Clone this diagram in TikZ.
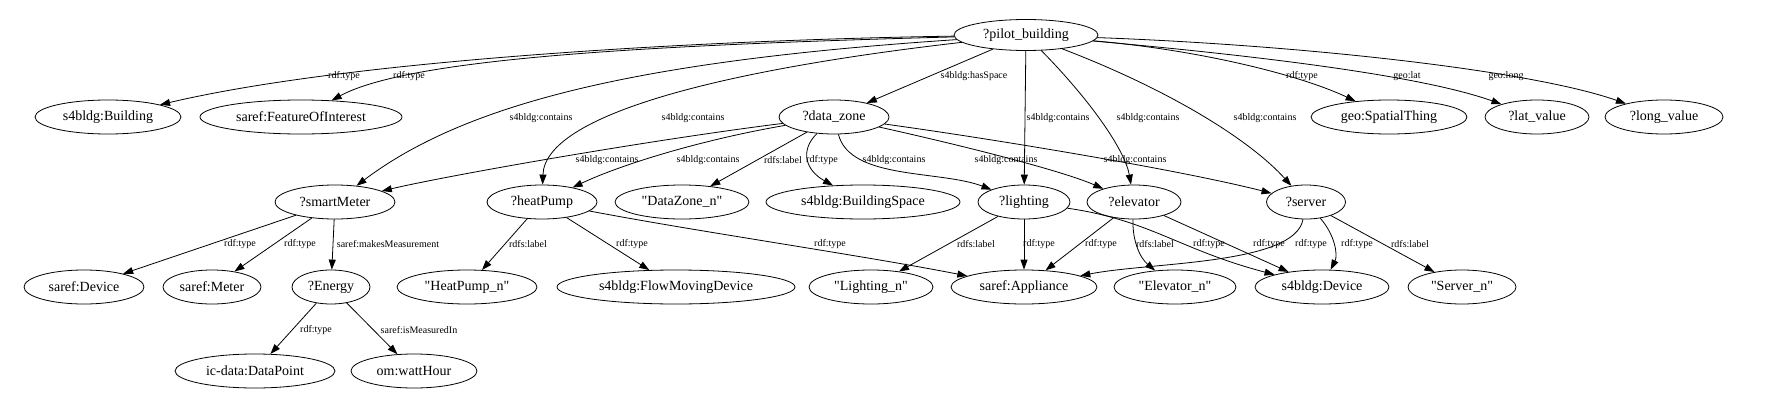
\documentclass[tikz,border=0pt]{standalone}
\usepackage{fontspec}
\newfontfamily\gvfont{Liberation Serif}
\usetikzlibrary{shapes.geometric,arrows.meta}
\begin{document}
\begin{tikzpicture}[x=1pt,y=-1pt,
  nd/.style={draw,ellipse,line width=0.8pt,inner sep=0pt,minimum height=34pt,font=\gvfont\fontsize{14}{16}\selectfont},
  edge/.style={draw,line width=0.8pt,-{Triangle[length=10pt,width=7pt]}},
  lbl/.style={font=\gvfont\fontsize{10}{12}\selectfont,inner sep=0pt}]
\useasboundingbox (0,0) rectangle (1765,407);
% row 1
\node[nd,minimum width=144pt,minimum height=31pt] (P) at (1026,35) {?pilot\_building};
% row 2
\node[nd,minimum width=146pt] (B) at (108,117) {s4bldg:Building};
\node[nd,minimum width=202pt] (FoI) at (301,117) {saref:FeatureOfInterest};
\node[nd,minimum width=110pt] (D) at (834,117) {?data\_zone};
\node[nd,minimum width=156pt] (GS) at (1389,117) {geo:SpatialThing};
\node[nd,minimum width=104pt] (LAT) at (1537,117) {?lat\_value};
\node[nd,minimum width=118pt] (LONG) at (1664,117) {?long\_value};
% row 3
\node[nd,minimum width=120pt] (S) at (335,202) {?smartMeter};
\node[nd,minimum width=110pt] (H) at (542,202) {?heatPump};
\node[nd,minimum width=134pt] (DZ) at (682,202) {"DataZone\_n"};
\node[nd,minimum width=194pt] (BS) at (863,202) {s4bldg:BuildingSpace};
\node[nd,minimum width=92pt] (L) at (1024,202) {?lighting};
\node[nd,minimum width=94pt] (E) at (1134,202) {?elevator};
\node[nd,minimum width=79pt] (V) at (1306,202) {?server};
% row 4
\node[nd,minimum width=120pt] (SD) at (84,287) {saref:Device};
\node[nd,minimum width=98pt] (SM) at (212,287) {saref:Meter};
\node[nd,minimum width=78pt] (EN) at (331,287) {?Energy};
\node[nd,minimum width=140pt] (HN) at (467,287) {"HeatPump\_n"};
\node[nd,minimum width=238pt] (FMD) at (676,287) {s4bldg:FlowMovingDevice};
\node[nd,minimum width=124pt] (LN) at (871,287) {"Lighting\_n"};
\node[nd,minimum width=146pt] (APP) at (1024,287) {saref:Appliance};
\node[nd,minimum width=122pt] (ELN) at (1175,287) {"Elevator\_n"};
\node[nd,minimum width=134pt] (SD4) at (1322,287) {s4bldg:Device};
\node[nd,minimum width=108pt] (SN) at (1462,287) {"Server\_n"};
% row 5
\node[nd,minimum width=160pt] (DP) at (255,371) {ic-data:DataPoint};
\node[nd,minimum width=126pt] (WH) at (414,371) {om:wattHour};

% edges from ?pilot_building
\draw[edge] (P) .. controls (700,40) and (350,60) .. (B) node[lbl,at={(344,76)}] {rdf:type};
\draw[edge] (P) .. controls (650,45) and (410,58) .. (FoI) node[lbl,at={(409,76)}] {rdf:type};
\draw[edge] (P) .. controls (650,60) and (470,100) .. (S) node[lbl,at={(541,118)}] {s4bldg:contains};
\draw[edge] (P) .. controls (720,70) and (545,115) .. (H) node[lbl,at={(693,118)}] {s4bldg:contains};
\draw[edge] (P) -- (D) node[lbl,at={(974,76)}] {s4bldg:hasSpace};
\draw[edge] (P) -- (L) node[lbl,at={(1058,118)}] {s4bldg:contains};
\draw[edge] (P) .. controls (1090,100) and (1125,150) .. (E) node[lbl,at={(1148,118)}] {s4bldg:contains};
\draw[edge] (P) .. controls (1170,90) and (1250,140) .. (V) node[lbl,at={(1265,118)}] {s4bldg:contains};
\draw[edge] (P) .. controls (1200,50) and (1300,75) .. (GS) node[lbl,at={(1302,76)}] {rdf:type};
\draw[edge] (P) .. controls (1250,55) and (1420,75) .. (LAT) node[lbl,at={(1407,76)}] {geo:lat};
\draw[edge] (P) .. controls (1300,45) and (1530,70) .. (LONG) node[lbl,at={(1506,76)}] {geo:long};

% edges from ?data_zone
\draw[edge] (D) .. controls (650,140) and (450,175) .. (S) node[lbl,at={(607,160)}] {s4bldg:contains};
\draw[edge] (D) .. controls (700,140) and (620,165) .. (H) node[lbl,at={(708,160)}] {s4bldg:contains};
\draw[edge] (D) -- (DZ) node[lbl,at={(783,160)}] {rdfs:label};
\draw[edge] (D) .. controls (800,150) and (805,170) .. (BS) node[lbl,at={(822,160)}] {rdf:type};
\draw[edge] (D) .. controls (850,180) and (940,170) .. (L) node[lbl,at={(894,160)}] {s4bldg:contains};
\draw[edge] (D) .. controls (960,145) and (1060,170) .. (E) node[lbl,at={(1006,160)}] {s4bldg:contains};
\draw[edge] (D) .. controls (1000,140) and (1180,170) .. (V) node[lbl,at={(1135,160)}] {s4bldg:contains};

% edges from ?smartMeter
\draw[edge] (S) -- (SD) node[lbl,at={(240,244)}] {rdf:type};
\draw[edge] (S) -- (SM) node[lbl,at={(300,244)}] {rdf:type};
\draw[edge] (S) -- (EN) node[lbl,at={(388,244)}] {saref:makesMeasurement};

% edges from ?heatPump
\draw[edge] (H) -- (HN) node[lbl,at={(528,244)}] {rdfs:label};
\draw[edge] (H) -- (FMD) node[lbl,at={(632,244)}] {rdf:type};
\draw[edge] (H) .. controls (700,232) and (860,255) .. (APP) node[lbl,at={(830,244)}] {rdf:type};

% edges from ?lighting
\draw[edge] (L) -- (LN) node[lbl,at={(976,244)}] {rdfs:label};
\draw[edge] (L) -- (APP) node[lbl,at={(1039,244)}] {rdf:type};
\draw[edge] (L) .. controls (1150,220) and (1180,250) .. (SD4) node[lbl,at={(1209,244)}] {rdf:type};

% edges from ?elevator
\draw[edge] (E) -- (APP) node[lbl,at={(1101,244)}] {rdf:type};
\draw[edge] (E) .. controls (1132,240) and (1140,258) .. (ELN) node[lbl,at={(1155,244)}] {rdfs:label};
\draw[edge] (E) -- (SD4) node[lbl,at={(1269,244)}] {rdf:type};

% edges from ?server
\draw[edge] (V) .. controls (1295,265) and (1150,262) .. (APP) node[lbl,at={(1311,244)}] {rdf:type};
\draw[edge] (V) .. controls (1335,235) and (1338,255) .. (SD4) node[lbl,at={(1357,244)}] {rdf:type};
\draw[edge] (V) -- (SN) node[lbl,at={(1410,244)}] {rdfs:label};

% edges from ?Energy
\draw[edge] (EN) -- (DP) node[lbl,at={(316,330)}] {rdf:type};
\draw[edge] (EN) -- (WH) node[lbl,at={(419,330)}] {saref:isMeasuredIn};
\end{tikzpicture}
\end{document}
